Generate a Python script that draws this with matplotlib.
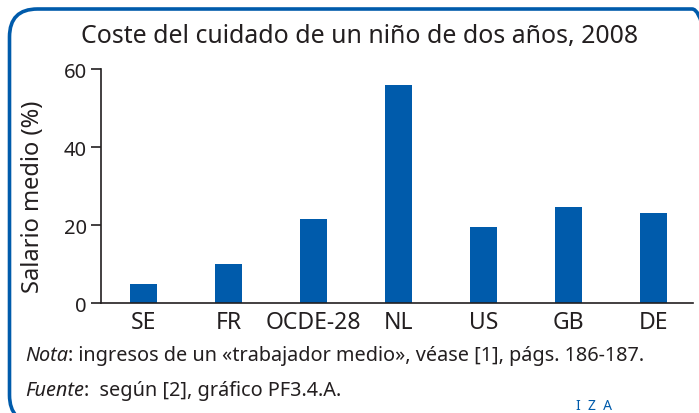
import matplotlib
matplotlib.use("Agg")
import matplotlib.pyplot as plt
from matplotlib.patches import FancyBboxPatch

categories = ["SE", "FR", "OCDE-28", "NL", "US", "GB", "DE"]
values = [4.9, 10.0, 21.6, 56.0, 19.5, 24.7, 23.1]
yticks = [0, 20, 40, 60]

title = "Coste del cuidado de un niño de dos años, 2008"
ylabel = "Salario medio (%)"

BLUE = "#005BAB"
TXT = "#231F20"

plt.rcParams['font.family'] = ['Noto Sans', 'DejaVu Sans']

W, H = 699, 414
fig = plt.figure(figsize=(W / 100, H / 100), dpi=100)

# rounded frame (extends beyond the right and bottom edges)
frame = FancyBboxPatch((9.5 / W, -10 / H), (720 - 9.5) / W, (404 + 10) / H,
                       boxstyle="round,pad=0,rounding_size=0.04",
                       transform=fig.transFigure, fill=False,
                       edgecolor=BLUE, linewidth=2.6, clip_on=False,
                       mutation_aspect=W / H)
fig.patches.append(frame)

ax = fig.add_axes([100.7 / W, 1 - 304.3 / H, (693 - 100.7) / W, (304.3 - 70) / H])
x = range(len(categories))
ax.bar(x, values, width=0.32, color=BLUE, zorder=2)
ax.set_xlim(-0.5, 6.46)
ax.set_ylim(0, 60)
ax.set_yticks(yticks)
ax.set_xticks(list(x))
ax.set_xticklabels(categories)
for s in ["top", "right"]:
    ax.spines[s].set_visible(False)
for s in ["left", "bottom"]:
    ax.spines[s].set_linewidth(1.2)
    ax.spines[s].set_color(TXT)
ax.tick_params(axis="y", direction="out", length=7, width=1.2, color=TXT,
               labelsize=14.5, labelcolor=TXT, pad=3)
ax.tick_params(axis="x", length=0, labelsize=16.5, labelcolor=TXT, pad=5)
ax.set_ylabel(ylabel, fontsize=17, color=TXT)
ax.yaxis.set_label_coords((45 - 100.7) / 592.3, 0.46)

fig.text(360 / W, 1 - 37 / H, title, ha="center", va="center", fontsize=17.9, color=TXT)

NFS = 14.3
t1 = fig.text(25 / W, 1 - 356 / H, "Nota", ha="left", va="center", fontsize=NFS,
              color=TXT, style="italic")
ax.annotate(": ingresos de un «trabajador medio», véase [1], págs. 186-187.",
            xy=(1, 0.5), xycoords=t1, ha="left", va="center", fontsize=NFS, color=TXT,
            annotation_clip=False)
t2 = fig.text(25 / W, 1 - 391 / H, "Fuente", ha="left", va="center", fontsize=NFS,
              color=TXT, style="italic")
ax.annotate(":  según [2], gráfico PF3.4.A.",
            xy=(1, 0.5), xycoords=t2, ha="left", va="center", fontsize=NFS, color=TXT,
            annotation_clip=False)

fig.text(594.5 / W, 1 - 407 / H, "I  Z  A", ha="center", va="center", fontsize=10,
         color=BLUE, fontweight="bold")

fig.savefig("out.png", dpi=100)
